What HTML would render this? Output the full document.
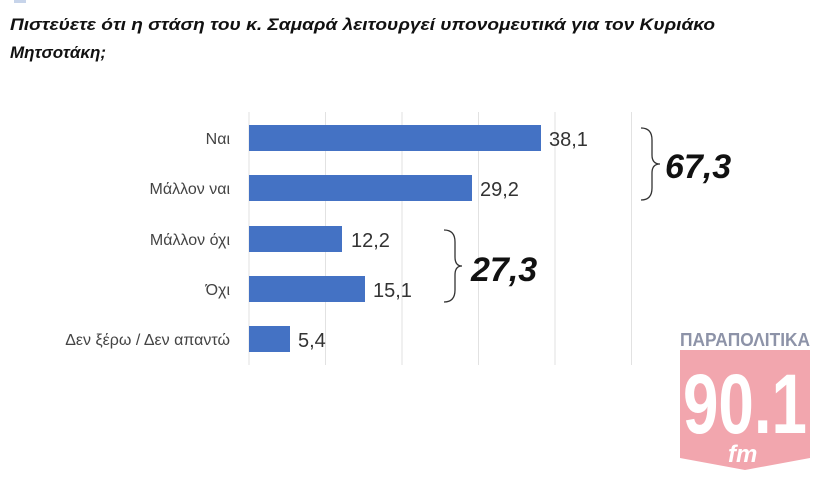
<!DOCTYPE html>
<html><head><meta charset="utf-8"><style>
body{margin:0;width:820px;height:473px;background:#fff;overflow:hidden;font-family:"Liberation Sans",sans-serif}
</style></head><body>
<svg width="820" height="473" xmlns="http://www.w3.org/2000/svg" font-family="Liberation Sans, DejaVu Sans, sans-serif">
<rect x="14" y="0" width="12" height="3" fill="#c7d4ea"/>
<text x="10" y="30" font-size="17" font-weight="bold" font-style="italic" fill="#111" textLength="705" lengthAdjust="spacingAndGlyphs">Πιστεύετε ότι η στάση του κ. Σαμαρά λειτουργεί υπονομευτικά για τον Κυριάκο</text>
<text x="10" y="58" font-size="17" font-weight="bold" font-style="italic" fill="#111">Μητσοτάκη;</text>
<g stroke="#e2e2e2" stroke-width="1">
<line x1="249" y1="112" x2="249" y2="365"/><line x1="325.5" y1="112" x2="325.5" y2="365"/><line x1="402" y1="112" x2="402" y2="365"/><line x1="478.5" y1="112" x2="478.5" y2="365"/><line x1="555" y1="112" x2="555" y2="365"/><line x1="631.5" y1="112" x2="631.5" y2="365"/>
</g>
<g fill="#4472c4">
<rect x="249" y="125" width="292" height="26"/>
<rect x="249" y="175" width="223" height="26"/>
<rect x="249" y="226" width="93" height="26"/>
<rect x="249" y="276" width="116" height="26"/>
<rect x="249" y="326" width="41" height="26"/>
</g>
<g font-size="16" fill="#444" text-anchor="end">
<text x="230" y="144">Ναι</text>
<text x="230" y="194">Μάλλον ναι</text>
<text x="230" y="245">Μάλλον όχι</text>
<text x="230" y="295">Όχι</text>
<text x="230" y="345">Δεν ξέρω / Δεν απαντώ</text>
</g>
<g font-size="20" fill="#333">
<text x="549" y="146">38,1</text>
<text x="480" y="196">29,2</text>
<text x="351" y="247">12,2</text>
<text x="373" y="297">15,1</text>
<text x="298" y="347">5,4</text>
</g>
<g fill="none" stroke="#333" stroke-width="1.3">
<path d="M641 128 Q652 128 652 140 L652 155 Q652 164 660 164 Q652 164 652 173 L652 188 Q652 200 641 200"/>
<path d="M444 230 Q455 230 455 242 L455 257 Q455 266 462 266 Q455 266 455 275 L455 290 Q455 302 444 302"/>
</g>
<g font-size="34" font-weight="bold" font-style="italic" fill="#111">
<text x="665" y="178">67,3</text>
<text x="471" y="281">27,3</text>
</g>
<text x="680" y="346" font-size="18" font-weight="bold" fill="#8d93a8" textLength="130" lengthAdjust="spacingAndGlyphs">ΠΑΡΑΠΟΛΙΤΙΚΑ</text>
<path d="M680 350 L810 350 L810 458 L745 470 L680 458 Z" fill="#f2a6ae"/>
<text x="683" y="433" font-size="84" font-weight="bold" fill="#fff" textLength="124" lengthAdjust="spacingAndGlyphs">90.1</text>
<text x="728" y="462" font-size="24" font-weight="bold" font-style="italic" fill="#fff">fm</text>
</svg>
</body></html>
